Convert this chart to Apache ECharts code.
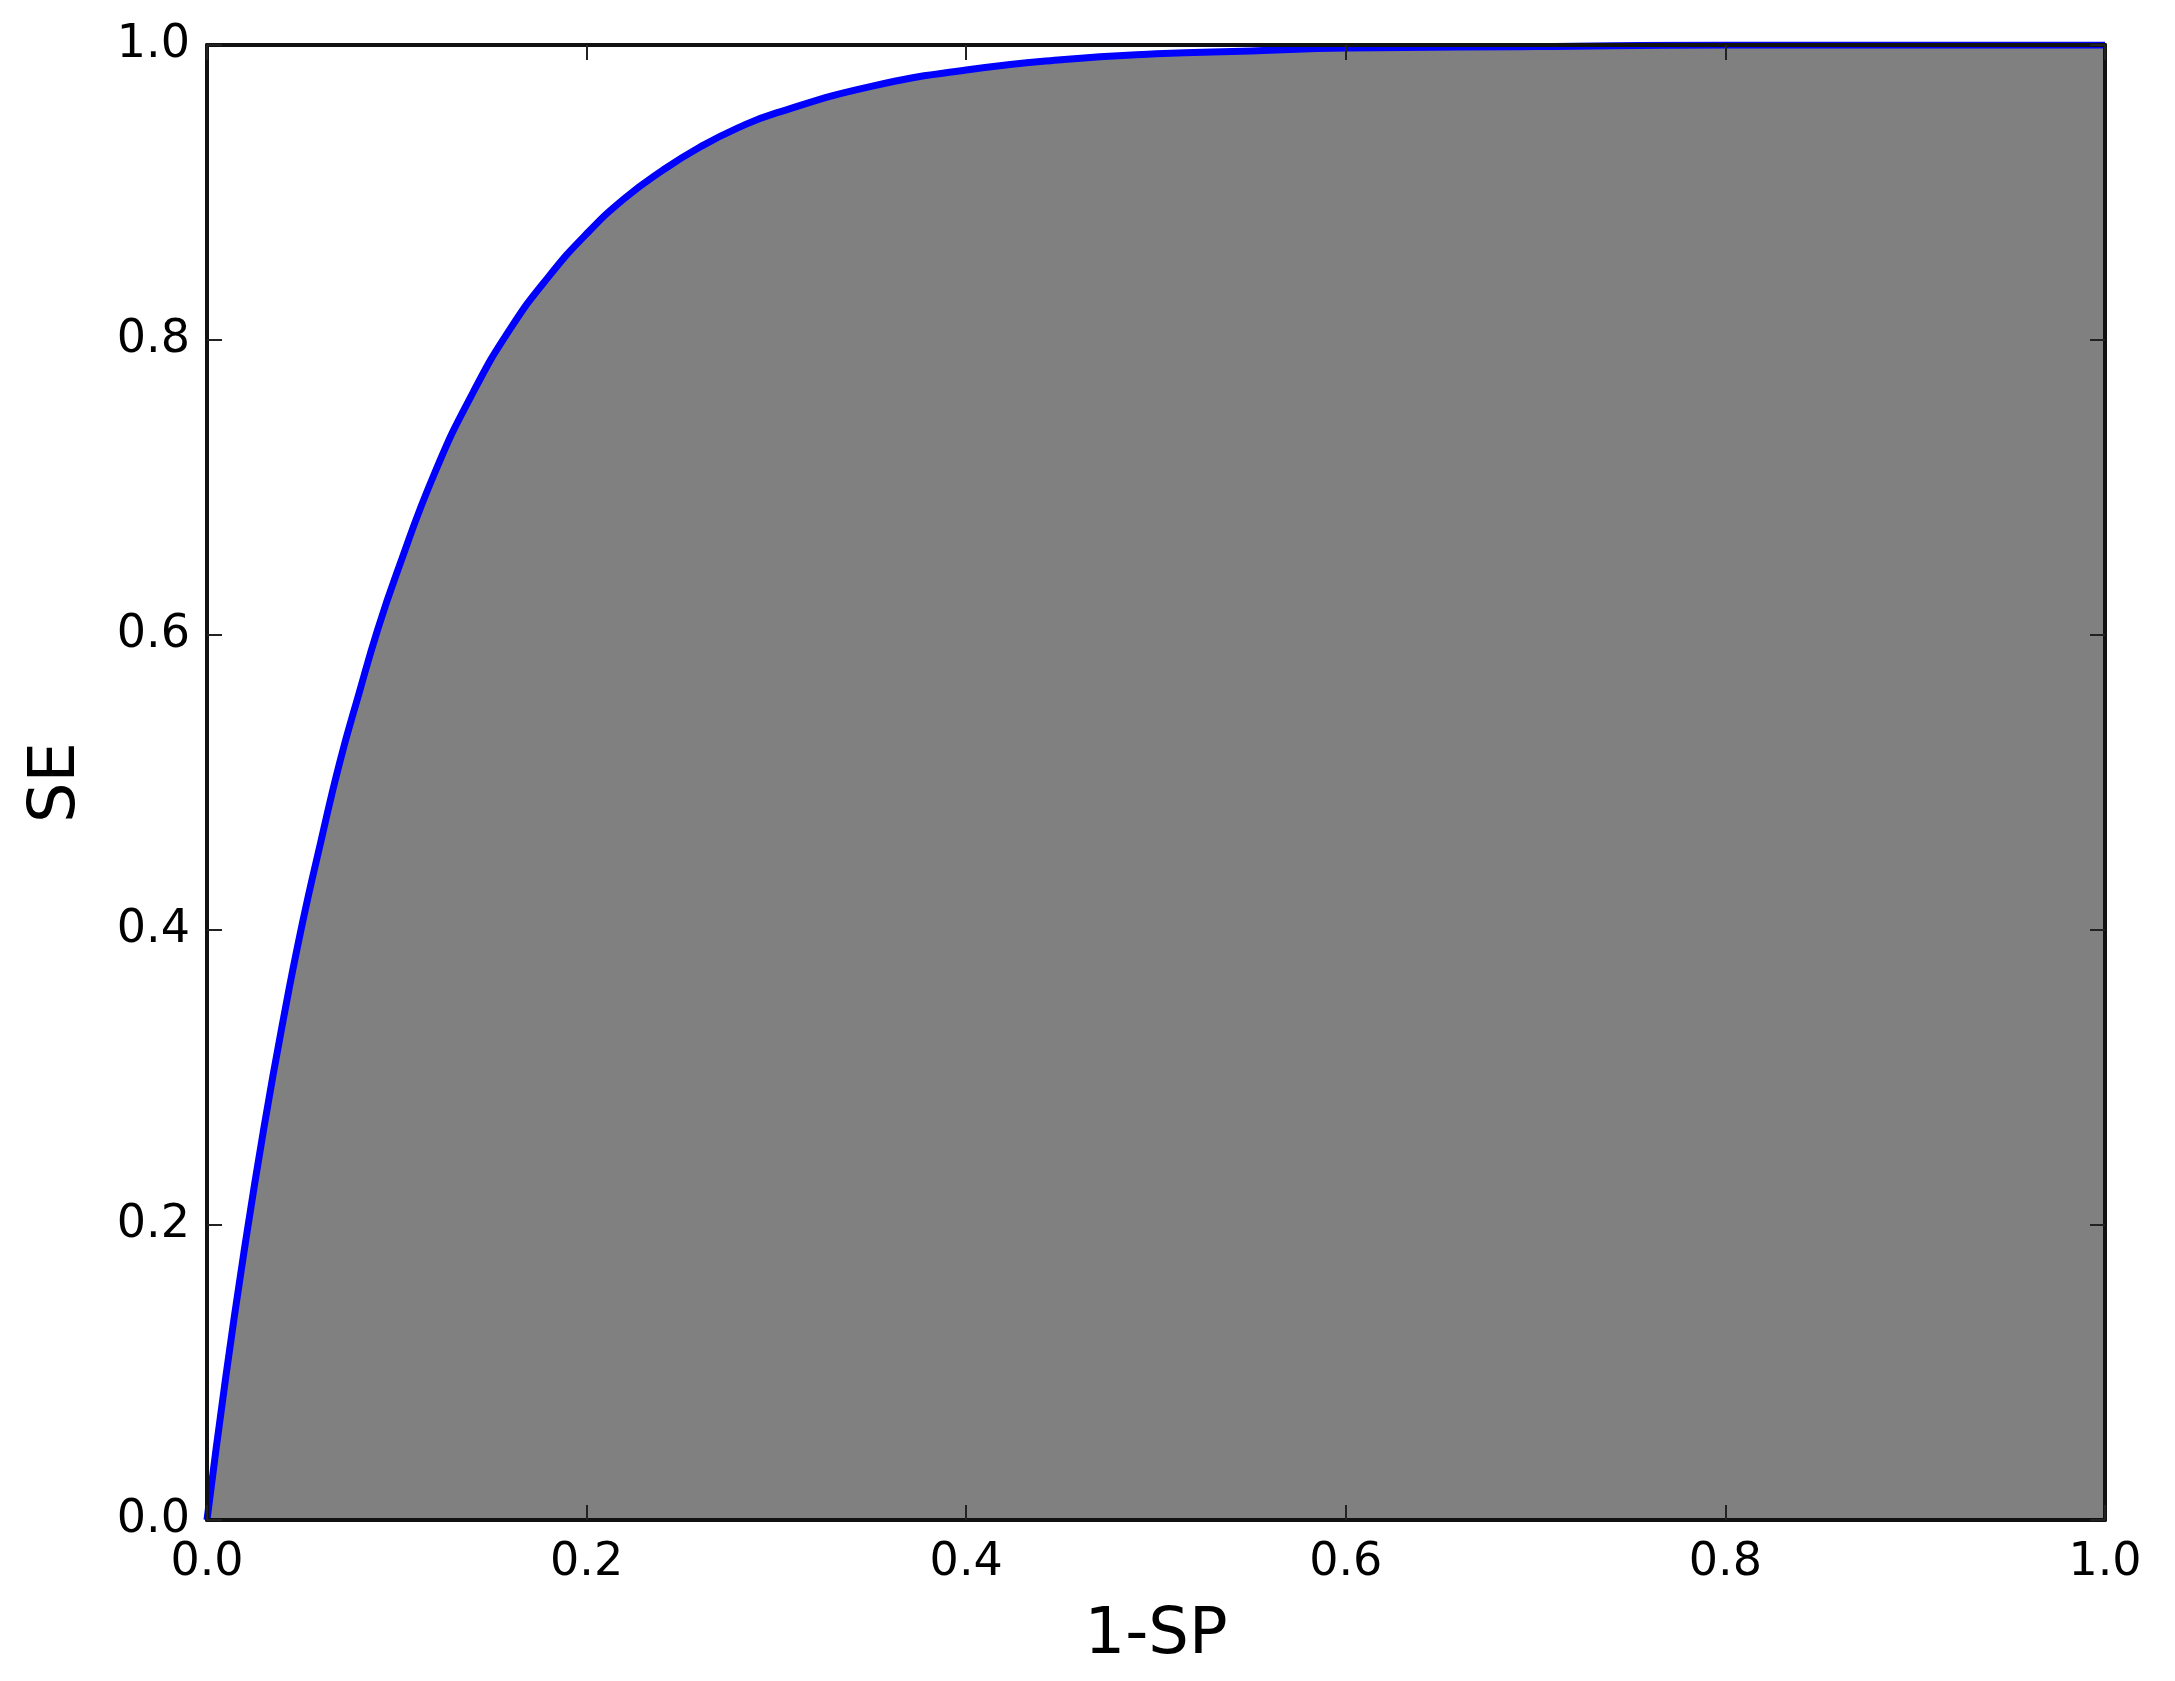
<!DOCTYPE html>
<html lang="en">

<head>
    <meta charset="UTF-8">
    <title>ROC SE vs 1-SP</title>
    <script src="https://cdn.jsdelivr.net/npm/echarts@6/dist/echarts.min.js"></script>
    <style>
        html, body { margin: 0; padding: 0; background: #fff; }
    </style>
</head>

<body>
    <div id="chart" style="width:2175px; height:1681px"></div>

    <script>
        // 1-SP (横轴) 与 SE (纵轴)，从图上读出的点
        const fpr = [0, 0.01, 0.02, 0.03, 0.04, 0.05, 0.06, 0.07, 0.08, 0.09, 0.10, 0.12, 0.14, 0.16, 0.18, 0.20,
            0.22, 0.24, 0.26, 0.28, 0.30, 0.35, 0.40, 0.45, 0.50, 0.55, 0.60, 0.70, 0.80, 0.90, 1.0];
        const se = [0, 0.098, 0.186, 0.266, 0.338, 0.403, 0.46, 0.514, 0.56, 0.604, 0.642, 0.71, 0.764, 0.808, 0.843, 0.872,
            0.896, 0.915, 0.931, 0.944, 0.954, 0.972, 0.983, 0.990, 0.994, 0.996, 0.998, 0.999, 1.0, 1.0, 1.0];

        const font = 'DejaVu Sans';
        const tickFmt = (v) => v.toFixed(1);

        // 边框 + 内向刻度（四边）
        const baseAxis = {
            type: 'value',
            min: 0,
            max: 1,
            interval: 0.2,
            z: 10,
            splitLine: { show: false },
            axisLine: { show: true, onZero: false, lineStyle: { color: '#111', width: 4 } },
            axisTick: { show: true, inside: true, length: 15, lineStyle: { color: '#222', width: 2 } }
        };

        const chart = echarts.init(document.getElementById('chart'));

        chart.setOption({
            animation: false,
            backgroundColor: '#fff',
            grid: { left: 207, right: 70, top: 45, bottom: 161 },
            xAxis: [{
                ...baseAxis,
                position: 'bottom',
                name: '1-SP',
                nameLocation: 'middle',
                nameGap: 84,
                nameTextStyle: { fontFamily: font, fontSize: 64, color: '#000' },
                axisLabel: { fontFamily: font, fontSize: 46, color: '#000', margin: 20, formatter: tickFmt }
            }, {
                ...baseAxis,
                position: 'top',
                axisLabel: { show: false }
            }],
            yAxis: [{
                ...baseAxis,
                position: 'left',
                name: 'SE',
                nameLocation: 'middle',
                nameGap: 118,
                nameTextStyle: { fontFamily: font, fontSize: 64, color: '#000' },
                axisLabel: { fontFamily: font, fontSize: 46, color: '#000', margin: 17, formatter: tickFmt }
            }, {
                ...baseAxis,
                position: 'right',
                axisLabel: { show: false }
            }],
            series: [{
                type: 'line',
                xAxisIndex: 0,
                yAxisIndex: 0,
                data: fpr.map((x, i) => [x, se[i]]),
                showSymbol: false,
                smooth: 0.5,
                lineStyle: { color: '#0000ff', width: 7 },
                areaStyle: { color: '#808080', opacity: 1 }
            }]
        });
    </script>
</body>

</html>
